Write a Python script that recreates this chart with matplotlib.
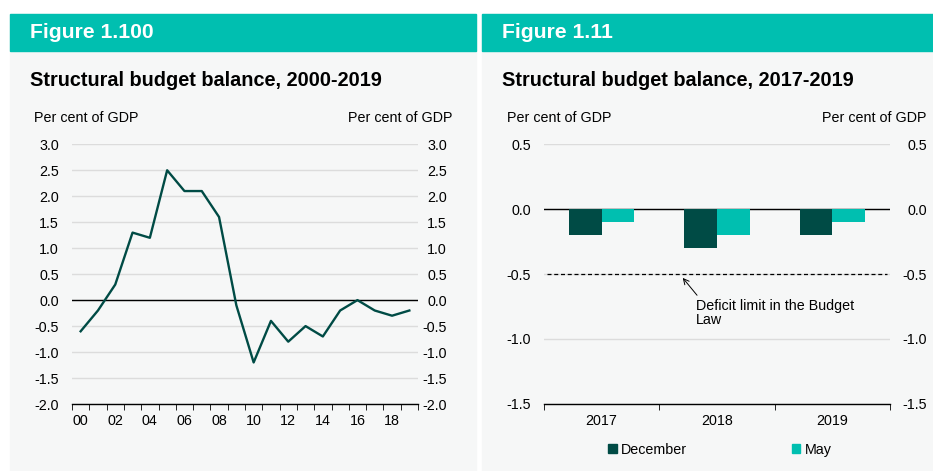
import numpy as np
import matplotlib
matplotlib.use("Agg")
import matplotlib.pyplot as plt
import matplotlib.transforms as mtransforms
from matplotlib.patches import Rectangle, Patch

plt.rcParams['font.family'] = ['Liberation Sans', 'DejaVu Sans']

# structural balance, per cent of GDP
years = list(range(2000, 2020))
balance = [-0.6, -0.2, 0.3, 1.3, 1.2, 2.5, 2.1, 2.1, 1.6, -0.1,
           -1.2, -0.4, -0.8, -0.5, -0.7, -0.2, 0.0, -0.2, -0.3, -0.2]

# estimates made in December and May
est_years = ['2017', '2018', '2019']
december = [-0.2, -0.3, -0.2]
may = [-0.1, -0.2, -0.1]
deficit_limit = -0.5

W, H = 933, 471
TEAL = '#00bfb0'
DARK = '#004b45'
PANEL = '#f6f7f7'
GRID = '#dcdcdc'
FS = 10.3


def box(x0, y0, x1, y1):
    # pixel box (top-left origin) -> figure fraction
    return [x0 / W, 1 - y1 / H, (x1 - x0) / W, (y1 - y0) / H]


def px(x, y):
    return x / W, 1 - y / H


fig = plt.figure(figsize=(W / 100, H / 100), dpi=100)
fig.patch.set_facecolor('white')

panels = [
    (10, 476, 'Figure 1.100', 'Structural budget balance, 2000-2019'),
    (482, 933, 'Figure 1.11', 'Structural budget balance, 2017-2019'),
]
for x0, x1, head, title in panels:
    fig.patches.append(Rectangle((x0 / W, 0), (x1 - x0) / W, 1 - 14 / H,
                                 transform=fig.transFigure, color=PANEL, zorder=-3))
    fig.patches.append(Rectangle(px(x0, 51), (x1 - x0) / W, 37 / H,
                                 transform=fig.transFigure, color=TEAL, zorder=-2))
    fig.text(*px(x0 + 20, 33), head, color='white', fontsize=15.2, fontweight='bold',
             va='center', ha='left')
    fig.text(*px(x0 + 20, 81), title, color='black', fontsize=14.3, fontweight='bold',
             va='center', ha='left')

fig.text(*px(34, 118), 'Per cent of GDP', fontsize=FS, va='center', ha='left')
fig.text(*px(453, 118), 'Per cent of GDP', fontsize=FS, va='center', ha='right')
fig.text(*px(507, 118), 'Per cent of GDP', fontsize=FS, va='center', ha='left')
fig.text(*px(926, 118), 'Per cent of GDP', fontsize=FS, va='center', ha='right')


def style_axes(ax, yticks, right_edge):
    ax.set_facecolor('none')
    for s in ['top', 'left', 'right']:
        ax.spines[s].set_visible(False)
    ax.spines['bottom'].set_color('black')
    ax.spines['bottom'].set_linewidth(1)
    ax.set_ylim(yticks[0], yticks[-1])
    ax.set_yticks(yticks)
    ax.set_yticklabels([f'{v:.1f}' for v in yticks])
    ax.tick_params(axis='y', length=0, labelsize=FS, pad=9.4,
                   labelleft=True, labelright=True)
    ax.yaxis.grid(True, color=GRID, linewidth=1)
    ax.set_axisbelow(True)
    ax.axhline(0, color='black', linewidth=1, zorder=2)
    # right-hand labels aligned on their right edge, right_edge px from the axis
    shift = (right_edge - 9.4 / 0.72) / 100
    for t in ax.yaxis.get_major_ticks():
        t.label2.set_horizontalalignment('right')
        t.label2.set_transform(t.label2.get_transform() +
                               mtransforms.ScaledTranslation(shift, 0, fig.dpi_scale_trans))


# left: line chart 2000-2019
ax1 = fig.add_axes(box(72, 144.3, 418, 404))
x = np.arange(len(years))
ax1.plot(x, balance, color=DARK, linewidth=1.7, zorder=3)
ax1.set_xlim(-0.5, len(years) - 0.5)
style_axes(ax1, np.arange(-2.0, 3.01, 0.5), 29)
ax1.set_xticks(x[::2])
ax1.set_xticklabels([f'{y % 100:02d}' for y in years[::2]])
ax1.set_xticks(np.arange(-0.5, len(years), 1), minor=True)
ax1.tick_params(axis='x', which='major', length=0, labelsize=FS, pad=7.5)
ax1.tick_params(axis='x', which='minor', length=4, direction='out', color='black')

# right: bars 2017-2019
ax2 = fig.add_axes(box(544, 144.3, 890, 403.7))
xb = np.arange(len(est_years))
bw = 0.283
ax2.bar(xb - bw / 2, december, bw, color=DARK, zorder=3, label='December')
ax2.bar(xb + bw / 2, may, bw, color=TEAL, zorder=3, label='May')
ax2.set_xlim(-0.5, len(est_years) - 0.5)
style_axes(ax2, np.arange(-1.5, 0.51, 0.5), 37)
ax2.set_xticks(xb)
ax2.set_xticklabels(est_years)
ax2.set_xticks(np.arange(-0.5, len(est_years), 1), minor=True)
ax2.tick_params(axis='x', which='major', length=0, labelsize=FS, pad=7.5)
ax2.tick_params(axis='x', which='minor', length=4, direction='out', color='black')
ax2.axhline(deficit_limit, xmin=0.01, xmax=0.99, color='black', linewidth=0.9,
            dashes=(3.2, 2.2), zorder=2)
ax2.annotate('', xy=(0.703, -0.53), xytext=(0.827, -0.664),
             arrowprops=dict(arrowstyle='->', color='black', lw=0.7,
                             shrinkA=0, shrinkB=0))
ax2.text(0.82, -0.69, 'Deficit limit in the Budget\nLaw', fontsize=FS,
         va='top', ha='left', linespacing=1.0)

handles = [Patch(color=DARK, label='December'), Patch(color=TEAL, label='May')]
fig.legend(handles=handles, loc='center', bbox_to_anchor=px(720, 450), ncol=2,
           frameon=False, fontsize=FS, handlelength=0.6, handleheight=0.6,
           handletextpad=0.3, columnspacing=7.3)

fig.savefig('out.png', dpi=100, facecolor='white')
